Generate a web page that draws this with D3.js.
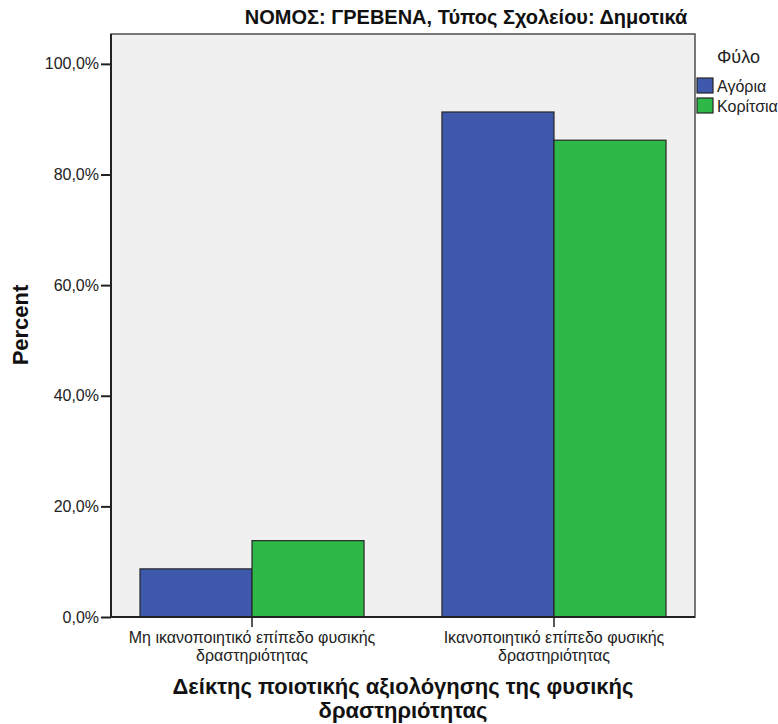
<!DOCTYPE html>
<html>
<head>
<meta charset="utf-8">
<script src="https://cdn.jsdelivr.net/npm/d3@7"></script>
<style>
  html, body { margin: 0; padding: 0; background: #fff; }
  svg { display: block; font-family: Arial, "Liberation Sans", sans-serif; }
</style>
</head>
<body>
<svg id="chart" width="778" height="724"></svg>
<script>
// ---- data ----
const title = "ΝΟΜΟΣ: ΓΡΕΒΕΝΑ, Τύπος Σχολείου: Δημοτικά";
const categories = ["Μη ικανοποιητικό επίπεδο φυσικής δραστηριότητας", "Ικανοποιητικό επίπεδο φυσικής δραστηριότητας"];
const categoryLines = [["Μη ικανοποιητικό επίπεδο φυσικής", "δραστηριότητας"], ["Ικανοποιητικό επίπεδο φυσικής", "δραστηριότητας"]];
const seriesNames = ["Αγόρια", "Κορίτσια"];
const boysValues = [8.7, 91.3];
const girlsValues = [13.8, 86.2];
const yTicks = [0, 20, 40, 60, 80, 100];
const yTitle = "Percent";
const xTitleLines = ["Δείκτης ποιοτικής αξιολόγησης της φυσικής", "δραστηριότητας"];
const legendTitle = "Φύλο";
const colors = ["#3E58AC", "#2EB848"];

// ---- layout ----
const svg = d3.select("#chart");
const pLeft = 111, pRight = 695, pTop = 34, pBottom = 617;
const yMax = 105.4;

const y = d3.scaleLinear().domain([0, yMax]).range([pBottom, pTop]);
const x0 = d3.scaleBand().domain(categories).range([pLeft, pRight]).paddingInner(0.258).paddingOuter(0.096);
const x1 = d3.scaleBand().domain(seriesNames).range([0, x0.bandwidth()]);

const series = seriesNames.map((name, i) => ({ name, values: i === 0 ? boysValues : girlsValues, color: colors[i] }));

// plot background
svg.append("rect")
  .attr("x", pLeft).attr("y", pTop)
  .attr("width", pRight - pLeft).attr("height", pBottom - pTop)
  .attr("fill", "#f0f0f0")
  .attr("stroke", "#4d4d4d").attr("stroke-width", 1.5);

// bars
series.forEach(s => {
  svg.append("g").selectAll("rect")
    .data(categories.map((c, i) => ({ c, v: s.values[i] })))
    .join("rect")
    .attr("x", d => x0(d.c) + x1(s.name))
    .attr("y", d => y(d.v))
    .attr("width", x1.bandwidth())
    .attr("height", d => y(0) - y(d.v))
    .attr("fill", s.color)
    .attr("stroke", "#262626").attr("stroke-width", 1.2);
});

// y axis
const yAxis = svg.append("g")
  .attr("transform", `translate(${pLeft},0)`)
  .call(d3.axisLeft(y).tickValues(yTicks).tickSize(10).tickPadding(2)
    .tickFormat(d => d3.format(".1f")(d).replace(".", ",") + "%"));
yAxis.select(".domain").attr("d", `M0,${pTop}V${pBottom}`).attr("stroke", "#222").attr("stroke-width", 2);
yAxis.selectAll(".tick line").attr("stroke", "#222").attr("stroke-width", 2);
yAxis.selectAll(".tick text").attr("font-size", 16).attr("fill", "#222")
  .attr("font-family", "Arial, 'Liberation Sans', sans-serif");

// x axis
const xAxis = svg.append("g")
  .attr("transform", `translate(0,${pBottom})`)
  .call(d3.axisBottom(x0).tickSize(10).tickFormat(""));
xAxis.select(".domain").attr("d", `M${pLeft},0H${pRight}`).attr("stroke", "#222").attr("stroke-width", 2);
xAxis.selectAll(".tick line").attr("stroke", "#222").attr("stroke-width", 1.5);
xAxis.selectAll(".tick text").remove();

// category labels (one text element per line)
categories.forEach((c, i) => {
  const cx = x0(c) + x0.bandwidth() / 2;
  categoryLines[i].forEach((ln, j) => {
    svg.append("text")
      .attr("x", cx).attr("y", 643 + j * 18)
      .attr("text-anchor", "middle")
      .attr("font-size", 16).attr("fill", "#222")
      .text(ln);
  });
});

// title
svg.append("text")
  .attr("x", 466).attr("y", 24)
  .attr("text-anchor", "middle")
  .attr("font-size", 20).attr("font-weight", "bold").attr("fill", "#111")
  .text(title);

// y title
svg.append("text")
  .attr("transform", `translate(28,325) rotate(-90)`)
  .attr("text-anchor", "middle")
  .attr("font-size", 22).attr("font-weight", "bold").attr("fill", "#111")
  .text(yTitle);

// x title
xTitleLines.forEach((ln, j) => {
  svg.append("text")
    .attr("x", (pLeft + pRight) / 2).attr("y", 694 + j * 24)
    .attr("text-anchor", "middle")
    .attr("font-size", 22).attr("font-weight", "bold").attr("fill", "#111")
    .text(ln);
});

// legend
svg.append("text")
  .attr("x", 717).attr("y", 63)
  .attr("font-size", 18).attr("fill", "#222")
  .text(legendTitle);
const lg = svg.append("g").selectAll("g").data(series).join("g")
  .attr("transform", (d, i) => `translate(697,${78 + i * 20})`);
lg.append("rect").attr("width", 16).attr("height", 15)
  .attr("fill", d => d.color).attr("stroke", "#262626").attr("stroke-width", 1.2);
lg.append("text").attr("x", 20).attr("y", 14)
  .attr("font-size", 16).attr("fill", "#222")
  .text(d => d.name);
</script>
</body>
</html>
